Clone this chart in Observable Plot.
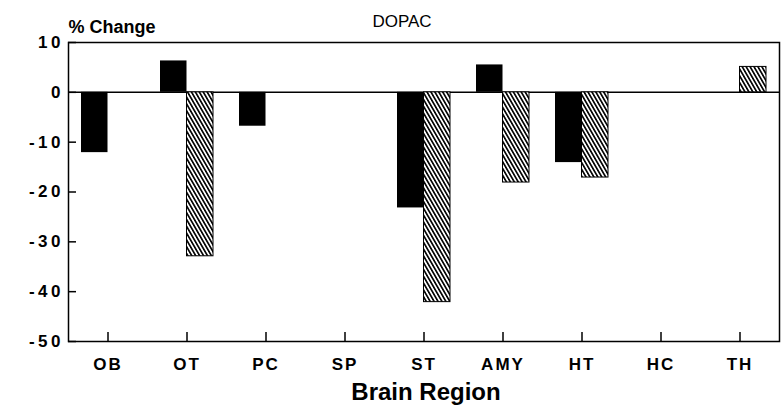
<!DOCTYPE html>
<html>
<head>
<meta charset="utf-8">
<script src="https://cdn.jsdelivr.net/npm/d3@7"></script>
<script src="https://cdn.jsdelivr.net/npm/@observablehq/plot@0.6"></script>
<style>
  html, body { margin: 0; padding: 0; background: white; }
  #chart svg { display: block; }
  g[aria-label="y-axis tick label"] text { letter-spacing: 3.5px; }
  g[aria-label="x-axis tick label"] text { letter-spacing: 2px; }
  g[aria-label="ytitle"] text { letter-spacing: 1.5px; }
  g[aria-label="xtitle"] text { letter-spacing: 1px; }
  g[aria-label="maintitle"] text { letter-spacing: 0.5px; }
</style>
</head>
<body>
<svg width="0" height="0" style="position:absolute">
  <defs>
    <pattern id="hatch" patternUnits="userSpaceOnUse" width="3.4" height="3.4" patternTransform="rotate(-30)">
      <rect width="3.4" height="3.4" fill="white"></rect>
      <line x1="0.8" y1="-1" x2="0.8" y2="4.4" stroke="black" stroke-width="1.7"></line>
    </pattern>
  </defs>
</svg>
<div id="chart"></div>
<script>
// ---- data ----
const regions = ["OB", "OT", "PC", "SP", "ST", "AMY", "HT", "HC", "TH"];
const solidValues = [-12.1, 6.3, -6.8, null, -23.2, 5.5, -14.1, null, null];
const hatchedValues = [null, -32.9, null, null, -42.1, -18.1, -17.1, null, 5.1];
const yTicks = [10, 0, -10, -20, -30, -40, -50];
const chartTitle = "DOPAC";
const yTitle = "% Change";
const xTitle = "Brain Region";

const solidData = regions.map((r, i) => ({region: r, value: solidValues[i]})).filter(d => d.value != null);
const hatchedData = regions.map((r, i) => ({region: r, value: hatchedValues[i]})).filter(d => d.value != null);

const font = "'Liberation Sans', Arial, Helvetica, sans-serif";

const chart = Plot.plot({
  width: 782,
  height: 411,
  marginTop: 42,
  marginBottom: 70,
  marginLeft: 68,
  marginRight: 3,
  style: {fontFamily: font, background: "white", color: "black", overflow: "visible"},
  x: {domain: regions, padding: 0, label: null},
  y: {domain: [-50, 10], label: null},
  marks: [
    Plot.ruleY([0], {stroke: "black", strokeWidth: 1.5}),
    Plot.barY(solidData, {x: "region", y: "value", fill: "black", insetLeft: 13, insetRight: 39.5}),
    Plot.barY(hatchedData, {x: "region", y: "value", fill: "url(#hatch)", stroke: "black", strokeWidth: 1, insetLeft: 39.5, insetRight: 13}),
    Plot.frame({stroke: "black", strokeWidth: 1.5}),
    // inward tick marks
    Plot.axisY(yTicks, {tickSize: 8, dx: 8, fill: "none", stroke: "black", strokeWidth: 1.5, label: null}),
    Plot.axisX({tickSize: 9, dy: -9, fill: "none", stroke: "black", strokeWidth: 1.5, label: null}),
    // tick labels
    Plot.axisY(yTicks, {tickSize: 0, tickPadding: 4.5, fontSize: 17, fontWeight: "bold", fill: "black", label: null, tickFormat: d => String(d)}),
    Plot.axisX({tickSize: 0, tickPadding: 16, fontSize: 17, fontWeight: "bold", fill: "black", label: null}),
    // titles
    Plot.text([yTitle], {text: d => d, frameAnchor: "top-left", textAnchor: "start", dy: -22, fontSize: 18, fontWeight: "bold", fill: "black", ariaLabel: "ytitle"}),
    Plot.text([chartTitle], {text: d => d, frameAnchor: "top", dx: -22, dy: -28, fontSize: 17, fill: "black", ariaLabel: "maintitle"}),
    Plot.text([xTitle], {text: d => d, frameAnchor: "bottom", dx: 2, dy: 58, fontSize: 24, fontWeight: "bold", fill: "black", ariaLabel: "xtitle"})
  ]
});

document.getElementById("chart").appendChild(chart);
</script>
</body>
</html>
